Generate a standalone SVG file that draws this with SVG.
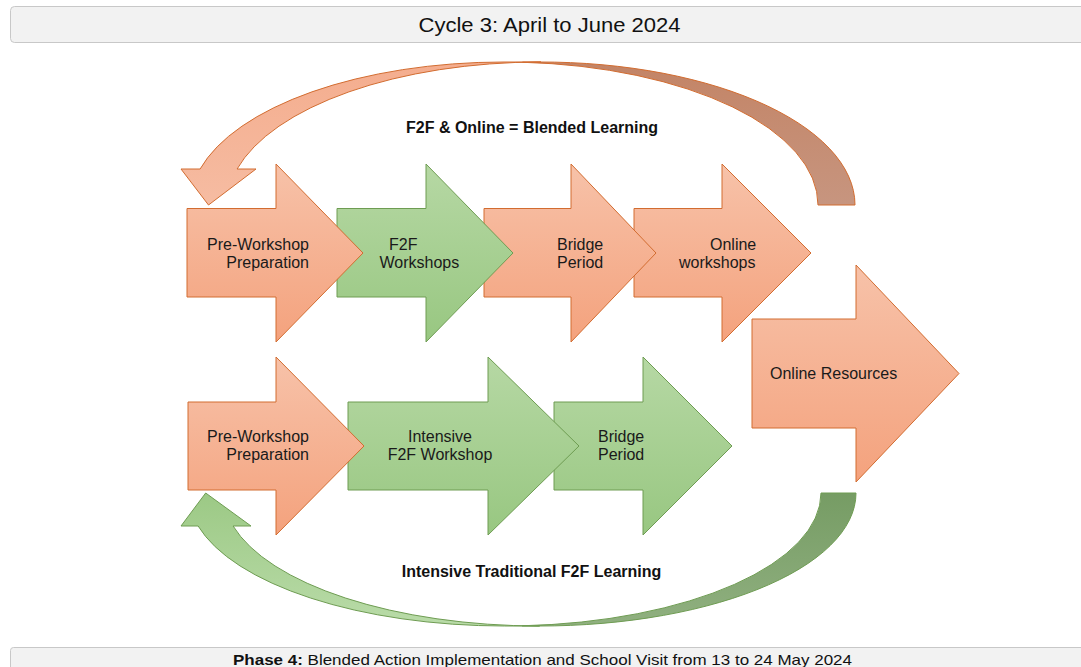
<svg xmlns="http://www.w3.org/2000/svg" width="1081" height="667" viewBox="0 0 1081 667">
  <defs>
    <linearGradient id="gSalmon" x1="0" y1="0" x2="0" y2="1">
      <stop offset="0" stop-color="#f7c2a9"/>
      <stop offset="1" stop-color="#f4a27d"/>
    </linearGradient>
    <linearGradient id="gGreen" x1="0" y1="0" x2="0" y2="1">
      <stop offset="0" stop-color="#b6d8a4"/>
      <stop offset="1" stop-color="#98c781"/>
    </linearGradient>
    <linearGradient id="gArcFront" x1="0" y1="0" x2="0" y2="1">
      <stop offset="0" stop-color="#f4ad8e"/>
      <stop offset="1" stop-color="#f6bca2"/>
    </linearGradient>
    <linearGradient id="gArcBack" x1="0" y1="0" x2="0" y2="1">
      <stop offset="0" stop-color="#c38466"/>
      <stop offset="1" stop-color="#c7957f"/>
    </linearGradient>
    <linearGradient id="gLoopFront" x1="0" y1="0" x2="0" y2="1">
      <stop offset="0" stop-color="#9cc985"/>
      <stop offset="1" stop-color="#b9dba8"/>
    </linearGradient>
    <linearGradient id="gLoopBack" x1="0" y1="0" x2="0" y2="1">
      <stop offset="0" stop-color="#769c64"/>
      <stop offset="1" stop-color="#90b080"/>
    </linearGradient>
  </defs>
  <style>
    .bar { fill: #f2f2f2; stroke: #c8c8c8; stroke-width: 1; }
    .salmon { fill: url(#gSalmon); stroke: #d26c30; stroke-width: 1; stroke-linejoin: miter; }
    .green { fill: url(#gGreen); stroke: #6e9c52; stroke-width: 1; stroke-linejoin: miter; }
    .lbl { font-family: "Liberation Sans", Arial, sans-serif; font-size: 16px; fill: #1a1a1a; }
    .loop { font-family: "Liberation Sans", Arial, sans-serif; font-size: 16px; font-weight: bold; fill: #111; }
    .head { font-family: "Liberation Sans", Arial, sans-serif; fill: #111; }
    .oline { stroke: #d26c30; stroke-width: 1; }
    .gline { stroke: #6e9c52; stroke-width: 1; }
  </style>

  <!-- header bar -->
  <g id="title-bar">
    <rect class="bar" x="10.5" y="6.5" width="1100" height="36" rx="4"/>
    <text class="head" x="549.5" y="32" font-size="20" text-anchor="middle" textLength="262" lengthAdjust="spacingAndGlyphs">Cycle 3: April to June 2024</text>
  </g>

  <!-- curved loop arrows -->
  <g id="connectors">
    <!-- upper loop: back band then front band with head -->
    <path class="oline" fill="url(#gArcBack)" d="M855,205 A314,143 0 0 0 522.5,62.25 A314,143 0 0 1 818,205 Z"/>
    <path class="oline" fill="url(#gArcFront)" d="M208.5,205 L256,169 L237.1,169 A314,143 0 0 1 541,62 L504,62 A314,143 0 0 0 200.1,169 L181,169 Z"/>
    <!-- lower loop -->
    <path class="gline" fill="url(#gLoopBack)" d="M856,493 A316.4,133 0 0 1 522.1,625.8 A316.4,133 0 0 0 821,493 Z"/>
    <path class="gline" fill="url(#gLoopFront)" d="M205.7,493 L251,526 L233.1,526 A316.4,133 0 0 0 539.6,626 L504.6,626 A316.4,133 0 0 1 198.1,526 L181,526 Z"/>
    <text class="loop" x="532" y="133" text-anchor="middle">F2F &amp; Online = Blended Learning</text>
    <text class="loop" x="531.5" y="577" text-anchor="middle">Intensive Traditional F2F Learning</text>
  </g>

  <!-- big side arrow -->
  <g id="online-resources">
    <path class="salmon" d="M752,319 H856 V265 L959,373.5 L856,482 V428 H752 Z"/>
    <text class="lbl" x="770" y="379">Online Resources</text>
  </g>

  <!-- top row, drawn right to left so each head overlaps the next body -->
  <g id="online-workshops">
    <path class="salmon" d="M634,208.5 H722 V164 L811,253 L722,342 V297 H634 Z"/>
    <text class="lbl" x="710" y="250">Online</text>
    <text class="lbl" x="679" y="267.5">workshops</text>
  </g>
  <g id="bridge-period-1">
    <path class="salmon" d="M484,208.5 H571 V164 L656,253 L571,342 V297 H484 Z"/>
    <text class="lbl" x="557" y="250">Bridge</text>
    <text class="lbl" x="557" y="267.5">Period</text>
  </g>
  <g id="f2f-workshops">
    <path class="green" d="M337,208.5 H426 V164 L513,253 L426,342 V297 H337 Z"/>
    <text class="lbl" x="389" y="250">F2F</text>
    <text class="lbl" x="379.5" y="267.5">Workshops</text>
  </g>
  <g id="pre-workshop-1">
    <path class="salmon" d="M187,208.5 H276 V164 L363,253 L276,342 V297 H187 Z"/>
    <text class="lbl" x="309" y="250" text-anchor="end">Pre-Workshop</text>
    <text class="lbl" x="309" y="267.5" text-anchor="end">Preparation</text>
  </g>

  <!-- bottom row -->
  <g id="bridge-period-2">
    <path class="green" d="M554,402 H643 V357 L732,446 L643,535 V490 H554 Z"/>
    <text class="lbl" x="598" y="442">Bridge</text>
    <text class="lbl" x="598" y="460">Period</text>
  </g>
  <g id="intensive-f2f">
    <path class="green" d="M348,402 H488 V357 L579,446 L488,535 V490 H348 Z"/>
    <text class="lbl" x="440" y="442" text-anchor="middle">Intensive</text>
    <text class="lbl" x="440" y="460" text-anchor="middle">F2F Workshop</text>
  </g>
  <g id="pre-workshop-2">
    <path class="salmon" d="M188,402 H276 V357 L364,446 L276,535 V490 H188 Z"/>
    <text class="lbl" x="309" y="442" text-anchor="end">Pre-Workshop</text>
    <text class="lbl" x="309" y="460" text-anchor="end">Preparation</text>
  </g>

  <!-- footer bar -->
  <g id="phase-bar">
    <rect class="bar" x="10.5" y="647.5" width="1100" height="40" rx="3"/>
    <text class="head" x="542.5" y="665" font-size="14.5" text-anchor="middle" textLength="619" lengthAdjust="spacingAndGlyphs"><tspan font-weight="bold">Phase 4:</tspan> Blended Action Implementation and School Visit from 13 to 24 May 2024</text>
  </g>
</svg>
